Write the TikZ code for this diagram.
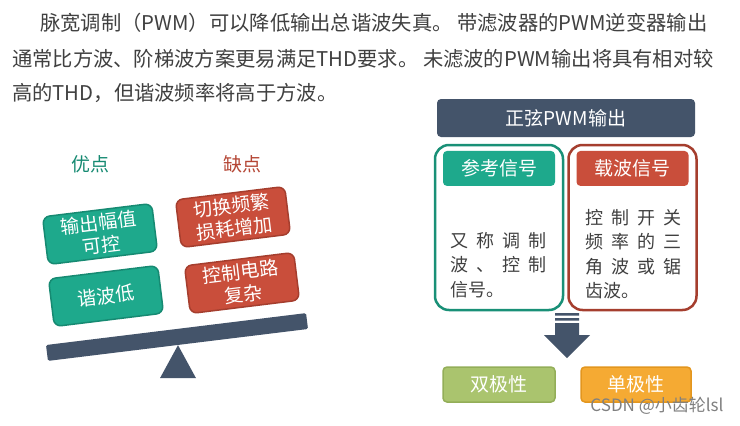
\documentclass[tikz,border=0pt]{standalone}
\usepackage{fontspec}
\setmainfont{Noto Sans CJK SC}
\usetikzlibrary{positioning}

\definecolor{slate}{HTML}{44546A}
\definecolor{textgray}{HTML}{404040}
\definecolor{tealfill}{HTML}{1EA98C}
\definecolor{tealline}{HTML}{168A72}
\definecolor{redfill}{HTML}{C94E3B}
\definecolor{redline}{HTML}{A53E2E}
\definecolor{olivefill}{HTML}{AAC46E}
\definecolor{oliveline}{HTML}{93AE58}
\definecolor{orangefill}{HTML}{F5AA33}
\definecolor{orangeline}{HTML}{E3961E}

\newcommand{\chgap}{\hspace{8pt}}

\begin{document}
\begin{tikzpicture}[x=1pt, y=-1pt,
    every node/.style={inner sep=0pt, font=\fontsize{19}{23}\selectfont},
    para/.style={anchor=west, text=textgray, font=\fontsize{20.3}{24}\selectfont},
    probox/.style={draw=tealline, fill=tealfill, line width=1.5pt, rounded corners=7pt,
        minimum width=110, minimum height=48, rotate=7, text=white, align=center},
    conbox/.style={probox, draw=redline, fill=redfill},
    frame/.style={draw=#1, line width=2.5pt, rounded corners=14pt, minimum width=128, minimum height=165},
    tag/.style={fill=#1, rounded corners=4pt, minimum width=112, minimum height=35, text=white},
    desc/.style={anchor=west, align=left, text=textgray, font=\fontsize{18}{24.5}\selectfont}]
    \fill[white] (0,0) rectangle (740,426);

    % intro text
    \node[para] (line1) at (40,23) {脉宽调制（PWM）可以降低输出总谐波失真。 带滤波器的PWM逆变器输出};
    \node[para] (line2) at (12,59) {通常比方波、阶梯波方案更易满足THD要求。 未滤波的PWM输出将具有相对较};
    \node[para] (line3) at (12,93) {高的THD，但谐波频率将高于方波。};

    % balance
    \node[text=tealline] (pros) at (90,164) {优点};
    \node[text=redfill!90!black] (cons) at (242,164) {缺点};
    \node[probox] (pro1) at (100,234) {输出幅值\\可控};
    \node[probox] (pro2) at (106,296) {谐波低};
    \node[conbox] (con1) at (233,217) {切换频繁\\损耗增加};
    \node[conbox] (con2) at (242,283) {控制电路\\复杂};
    \node[fill=slate, minimum width=262, minimum height=16, rotate=7, rounded corners=1.5pt] (beam) at (177,337) {};
    \fill[slate] (beam.south) -- ++(18,33) -- ++(-36,0) -- cycle;

    % sine PWM
    \node[fill=slate, rounded corners=4pt, minimum width=258, minimum height=38, text=white] (title) at (566,118) {正弦PWM输出};
    \node[frame=tealfill!85!black] (refframe) at (499,227.5) {};
    \node[frame=redline] (carframe) at (632.5,227.5) {};
    \node[tag=tealfill, below=7pt of refframe.north] (reftag) {参考信号};
    \node[tag=redfill, below=7pt of carframe.north] (cartag) {载波信号};
    \node[desc] (refdesc) at (450,265) {又\chgap 称\chgap 调\chgap 制\\波\chgap 、\chgap 控\chgap 制\\信号。};
    \node[desc] (cardesc) at (585,254) {控\chgap 制\chgap 开\chgap 关\\频\chgap 率\chgap 的\chgap 三\\角\chgap 波\chgap 或\chgap 锯\\齿波。};

    % arrow
    \coordinate (arrowtop) at (567,313);
    \fill[slate] (arrowtop) ++(-12,0) rectangle ++(24,2.5)
        (arrowtop) ++(-12,5) rectangle ++(24,2.5)
        (arrowtop) ++(-12,10) rectangle ++(24,13);
    \fill[slate] (arrowtop) ++(-23,22) -- ++(46,0) -- ++(-23,23) -- cycle;

    % output types
    \node[tag=olivefill, draw=oliveline, line width=1.5pt] (bipolar) at (499,384.5) {双极性};
    \node[tag=orangefill, draw=orangeline, line width=1.5pt, minimum width=110] (unipolar) at (636,384.5) {单极性};
    \node[text=gray, font=\fontsize{17}{20}\selectfont] (mark) at (657,406) {CSDN @小齿轮lsl};
\end{tikzpicture}
\end{document}
